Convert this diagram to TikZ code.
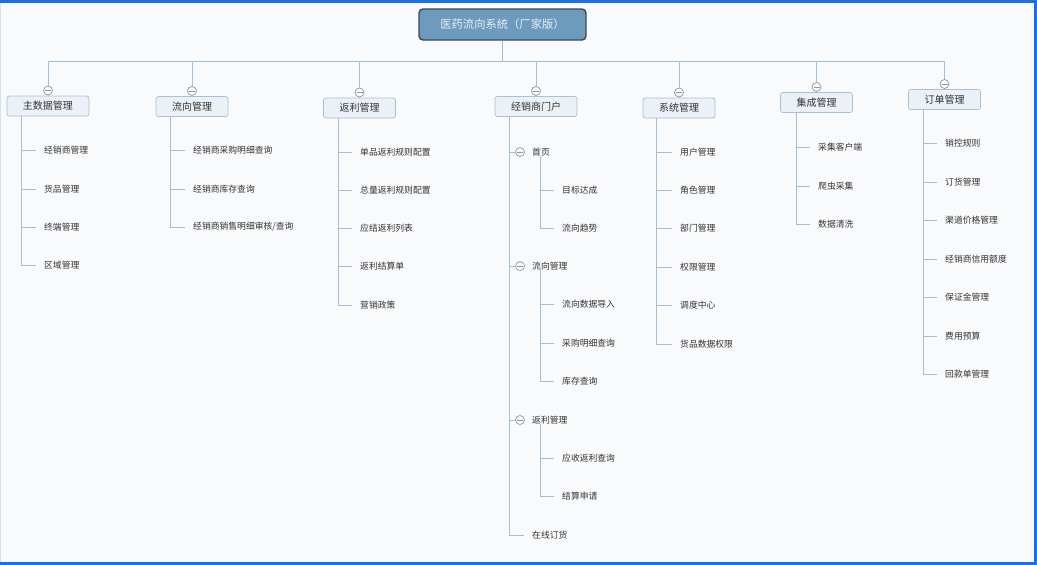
\documentclass[tikz,border=0pt]{standalone}
\usepackage{fontspec}
\setmainfont{Noto Sans CJK SC}
\definecolor{bg}{HTML}{F9FAFC}
\definecolor{frameblue}{HTML}{1D6FE3}
\definecolor{frameleft}{HTML}{D3E2F4}
\definecolor{linec}{HTML}{A6BDD2}
\definecolor{rootfill}{HTML}{6D9BBE}
\definecolor{rootborder}{HTML}{3A4A5A}
\definecolor{roottext}{HTML}{E9F0F7}
\definecolor{boxfill}{HTML}{ECF1F7}
\definecolor{boxborder}{HTML}{AAC0D4}
\definecolor{txt}{HTML}{333333}
\definecolor{circ}{HTML}{8C99A6}
\begin{document}
\begin{tikzpicture}[x=1pt,y=-1pt]
\tikzset{
  conn/.style={draw=linec, line width=0.8pt},
  rootbox/.style={draw=rootborder, fill=rootfill, line width=1.4pt, rounded corners=4pt,
    minimum width=167pt, minimum height=31pt, inner sep=0, text=roottext,
    font=\fontsize{11.3}{13}\selectfont},
  catbox/.style={draw=boxborder, fill=boxfill, line width=0.7pt, rounded corners=2.5pt,
    minimum height=20pt, inner xsep=16pt, inner ysep=0, text=txt,
    font=\fontsize{10}{12}\selectfont},
  leaf/.style={anchor=west, inner xsep=8pt, inner ysep=0, text=txt,
    font=\fontsize{8.8}{10}\selectfont},
  collapse/.style={circle, draw=circ, fill=bg, minimum size=9pt, inner sep=0, line width=0.7pt,
    path picture={\draw[circ, line width=0.7pt]
      ([xshift=-3pt]path picture bounding box.center) -- ([xshift=3pt]path picture bounding box.center);}}
}
% background and frame
\fill[bg] (0,0) rectangle (1037,565);
\useasboundingbox (0,0) rectangle (1037,565);
\fill[frameleft] (0,0) rectangle (1.2,565);
\fill[frameblue] (0,0) rectangle (1037,2.5);
\fill[frameblue] (1033.5,0) rectangle (1037,565);
\fill[frameblue] (0,562) rectangle (1037,565);

% root
\node[rootbox] (root) at (502.5,24.5) {医药流向系统（厂家版）};
\coordinate (bus) at (502.5,61);

% categories
\node[catbox] (A) at (48,106) {主数据管理};
\node[catbox] (B) at (192,106.5) {流向管理};
\node[catbox] (C) at (359.5,108) {返利管理};
\node[catbox] (D) at (536,106.5) {经销商门户};
\node[catbox] (E) at (679,108) {系统管理};
\node[catbox] (F) at (816.5,102.5) {集成管理};
\node[catbox] (G) at (944.5,99.5) {订单管理};

\node[collapse] (cA) at (48,90.5) {};
\node[collapse] (cB) at (192,91) {};
\node[collapse] (cC) at (359.5,92.5) {};
\node[collapse] (cD) at (536,91) {};
\node[collapse] (cE) at (679,92.5) {};
\node[collapse] (cF) at (816.5,87) {};
\node[collapse] (cG) at (944.5,84) {};

\draw[conn] (root.south) -- (bus);
\draw[conn] (cA |- bus) -- (cG |- bus);
\foreach \c/\b in {cA/A,cB/B,cC/C,cD/D,cE/E,cF/F,cG/G}{
  \draw[conn] (\c |- bus) -- (\c.north);
  \draw[conn] (\c.south) -- (\b.north);
}

% spines
\coordinate (As) at ([xshift=15pt]A.south west);
\coordinate (Bs) at ([xshift=15pt]B.south west);
\coordinate (Cs) at ([xshift=15pt]C.south west);
\coordinate (Ds) at ([xshift=15pt]D.south west);
\coordinate (Es) at ([xshift=14pt]E.south west);
\coordinate (Fs) at ([xshift=16pt]F.south west);
\coordinate (Gs) at ([xshift=15pt]G.south west);

% A
\node[leaf] (a1) at (36,150) {经销商管理};
\node[leaf] (a2) at (36,189) {货品管理};
\node[leaf] (a3) at (36,227) {终端管理};
\node[leaf] (a4) at (36,265) {区域管理};
\draw[conn] (As) |- (a4.west);
\foreach \n in {a1,a2,a3}{\draw[conn] (As |- \n.west) -- (\n.west);}

% B
\node[leaf] (b1) at (185,150) {经销商采购明细查询};
\node[leaf] (b2) at (185,189) {经销商库存查询};
\node[leaf] (b3) at (185,227) {经销商销售明细审核/查询};
\draw[conn] (Bs) |- (b3.west);
\foreach \n in {b1,b2}{\draw[conn] (Bs |- \n.west) -- (\n.west);}

% C
\node[leaf] (c1) at (352,152) {单品返利规则配置};
\node[leaf] (c2) at (352,190) {总量返利规则配置};
\node[leaf] (c3) at (352,228) {应结返利列表};
\node[leaf] (c4) at (352,266) {返利结算单};
\node[leaf] (c5) at (352,305) {营销政策};
\draw[conn] (Cs) |- (c5.west);
\foreach \n in {c1,c2,c3,c4}{\draw[conn] (Cs |- \n.west) -- (\n.west);}

% D
\node[collapse] (cD1) at (520,152) {};
\node[leaf] (D1) at (524,152) {首页};
\node[leaf] (d11) at (554,190) {目标达成};
\node[leaf] (d12) at (554,228) {流向趋势};
\node[collapse] (cD2) at (520,266) {};
\node[leaf] (D2) at (524,266) {流向管理};
\node[leaf] (d21) at (554,304) {流向数据导入};
\node[leaf] (d22) at (554,343) {采购明细查询};
\node[leaf] (d23) at (554,381) {库存查询};
\node[collapse] (cD3) at (520,420) {};
\node[leaf] (D3) at (524,420) {返利管理};
\node[leaf] (d31) at (554,458) {应收返利查询};
\node[leaf] (d32) at (554,496) {结算申请};
\node[leaf] (D4) at (524,535) {在线订货};
\draw[conn] (Ds) |- (D4.west);
\foreach \n in {cD1,cD2,cD3}{\draw[conn] (Ds |- \n.west) -- (\n.west);}
\coordinate (D1s) at ([xshift=16pt]D1.south west);
\coordinate (D2s) at ([xshift=16pt]D2.south west);
\coordinate (D3s) at ([xshift=16pt]D3.south west);
\draw[conn] (D1s) |- (d12.west);
\draw[conn] (D1s |- d11.west) -- (d11.west);
\draw[conn] (D2s) |- (d23.west);
\foreach \n in {d21,d22}{\draw[conn] (D2s |- \n.west) -- (\n.west);}
\draw[conn] (D3s) |- (d32.west);
\draw[conn] (D3s |- d31.west) -- (d31.west);

% E
\node[leaf] (e1) at (672,152) {用户管理};
\node[leaf] (e2) at (672,190) {角色管理};
\node[leaf] (e3) at (672,228) {部门管理};
\node[leaf] (e4) at (672,267) {权限管理};
\node[leaf] (e5) at (672,305) {调度中心};
\node[leaf] (e6) at (672,344) {货品数据权限};
\draw[conn] (Es) |- (e6.west);
\foreach \n in {e1,e2,e3,e4,e5}{\draw[conn] (Es |- \n.west) -- (\n.west);}

% F
\node[leaf] (f1) at (810,147) {采集客户端};
\node[leaf] (f2) at (810,186) {爬虫采集};
\node[leaf] (f3) at (810,224) {数据清洗};
\draw[conn] (Fs) |- (f3.west);
\foreach \n in {f1,f2}{\draw[conn] (Fs |- \n.west) -- (\n.west);}

% G
\node[leaf] (g1) at (937,143) {销控规则};
\node[leaf] (g2) at (937,182) {订货管理};
\node[leaf] (g3) at (937,220) {渠道价格管理};
\node[leaf] (g4) at (937,259) {经销商信用额度};
\node[leaf] (g5) at (937,297) {保证金管理};
\node[leaf] (g6) at (937,336) {费用预算};
\node[leaf] (g7) at (937,374) {回款单管理};
\draw[conn] (Gs) |- (g7.west);
\foreach \n in {g1,g2,g3,g4,g5,g6}{\draw[conn] (Gs |- \n.west) -- (\n.west);}
\end{tikzpicture}
\end{document}
